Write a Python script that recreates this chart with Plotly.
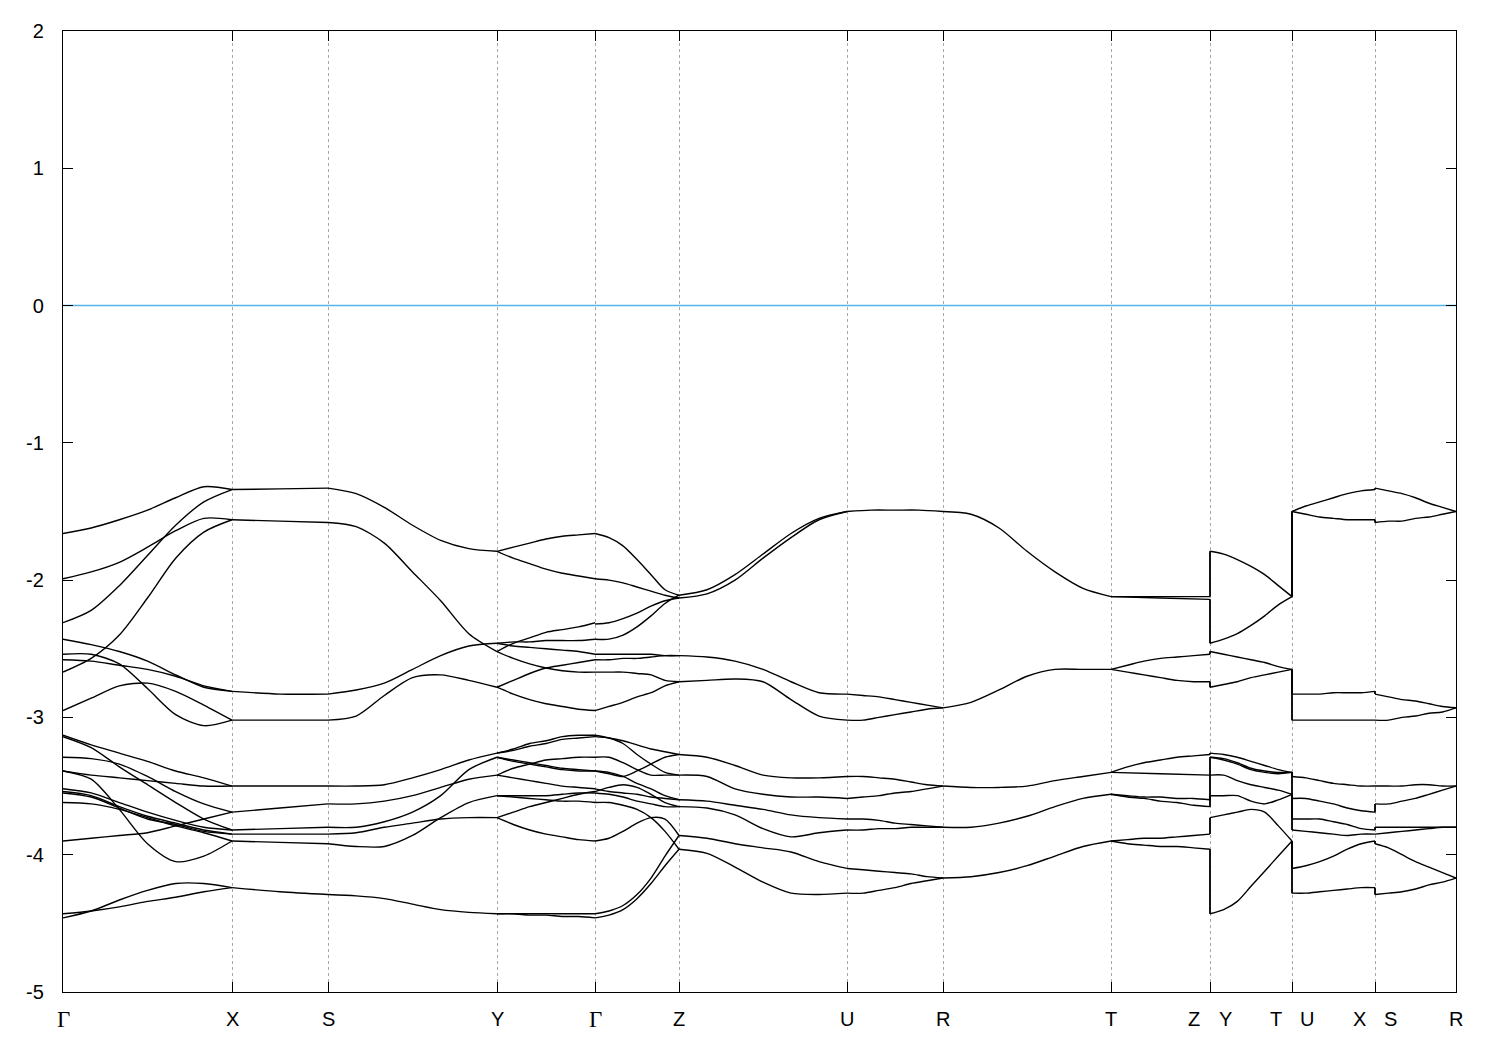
import numpy as np
import plotly.graph_objects as go

# ---------------- k-path ----------------
node_labels = ["Γ", "X", "S", "Y", "Γ", "Z", "U", "R", "T", "Z|Y", "T|U", "X|S", "R"]
seg_len = [1.69, 0.96, 1.69, 0.98, 0.84, 1.68, 0.96, 1.68, 0.99, 0.82, 0.83, 0.81]
jump_after = [8, 9, 10]          # path is discontinuous after these segments
y_ticks = [-5, -4, -3, -2, -1, 0, 1, 2]
y_tick_text = ["-5", "-4", "-3", "-2", "-1", "0", "1", "2"]
fermi_level = 0.0

# ---------------- bands (eV), per segment ----------------
# Gamma -> X
bands_GX = [
    [-1.66, -1.62, -1.56, -1.49, -1.40, -1.32, -1.34],
    [-1.99, -1.94, -1.87, -1.76, -1.64, -1.55, -1.56],
    [-2.31, -2.22, -2.04, -1.82, -1.60, -1.43, -1.34],
    [-2.67, -2.57, -2.40, -2.13, -1.84, -1.65, -1.56],
    [-2.43, -2.47, -2.52, -2.59, -2.69, -2.78, -2.81],
    [-2.58, -2.59, -2.62, -2.65, -2.70, -2.77, -2.81],
    [-2.54, -2.54, -2.61, -2.79, -2.98, -3.06, -3.02],
    [-2.95, -2.86, -2.77, -2.75, -2.81, -2.91, -3.02],
    [-3.13, -3.20, -3.26, -3.32, -3.39, -3.44, -3.50],
    [-3.39, -3.42, -3.44, -3.46, -3.48, -3.50, -3.50],
    [-3.29, -3.30, -3.34, -3.43, -3.54, -3.63, -3.69],
    [-3.90, -3.88, -3.86, -3.84, -3.79, -3.74, -3.69],
    [-3.14, -3.22, -3.36, -3.49, -3.62, -3.74, -3.82],
    [-3.52, -3.55, -3.62, -3.69, -3.75, -3.80, -3.82],
    [-3.54, -3.57, -3.65, -3.72, -3.77, -3.82, -3.85],
    [-3.55, -3.58, -3.66, -3.74, -3.78, -3.83, -3.85],
    [-3.62, -3.63, -3.67, -3.73, -3.79, -3.84, -3.90],
    [-3.39, -3.45, -3.67, -3.92, -4.05, -4.01, -3.90],
    [-4.46, -4.41, -4.33, -4.26, -4.21, -4.21, -4.24],
    [-4.43, -4.41, -4.38, -4.34, -4.31, -4.27, -4.24],
]
deg_GX = [1] * 20

# X -> S
bands_XS = [
    [-1.34, -1.335, -1.33],
    [-1.56, -1.57, -1.58],
    [-2.81, -2.83, -2.83],
    [-3.02, -3.02, -3.02],
    [-3.50, -3.50, -3.50],
    [-3.69, -3.66, -3.63],
    [-3.82, -3.81, -3.80],
    [-3.85, -3.85, -3.85],
    [-3.90, -3.91, -3.92],
    [-4.24, -4.27, -4.29],
]
deg_XS = [2] * 10

# S -> Y
bands_SY = [
    [-1.33, -1.37, -1.47, -1.60, -1.71, -1.77, -1.79],
    [-1.58, -1.61, -1.73, -1.94, -2.15, -2.39, -2.52],
    [-2.83, -2.80, -2.75, -2.65, -2.55, -2.48, -2.46],
    [-3.02, -2.99, -2.84, -2.71, -2.69, -2.73, -2.78],
    [-3.50, -3.50, -3.49, -3.44, -3.38, -3.31, -3.26],
    [-3.63, -3.63, -3.61, -3.57, -3.51, -3.45, -3.42],
    [-3.80, -3.80, -3.76, -3.69, -3.57, -3.38, -3.29],
    [-3.85, -3.84, -3.80, -3.77, -3.74, -3.73, -3.73],
    [-3.92, -3.94, -3.94, -3.86, -3.73, -3.62, -3.57],
    [-4.29, -4.30, -4.32, -4.36, -4.40, -4.42, -4.43],
]
deg_SY = [2] * 10

# Y -> Gamma
bands_YG = [
    [-1.79, -1.76, -1.73, -1.70, -1.68, -1.67, -1.66],
    [-1.79, -1.84, -1.88, -1.92, -1.95, -1.97, -1.99],
    [-2.52, -2.46, -2.42, -2.38, -2.36, -2.34, -2.31],
    [-2.46, -2.45, -2.45, -2.44, -2.44, -2.44, -2.43],
    [-2.46, -2.48, -2.49, -2.50, -2.51, -2.52, -2.54],
    [-2.52, -2.57, -2.61, -2.64, -2.66, -2.67, -2.67],
    [-2.78, -2.73, -2.68, -2.64, -2.62, -2.60, -2.58],
    [-2.78, -2.83, -2.87, -2.90, -2.92, -2.94, -2.95],
    [-3.26, -3.24, -3.21, -3.19, -3.16, -3.15, -3.14],
    [-3.26, -3.23, -3.19, -3.17, -3.14, -3.13, -3.13],
    [-3.29, -3.31, -3.33, -3.35, -3.37, -3.38, -3.39],
    [-3.29, -3.32, -3.34, -3.36, -3.38, -3.39, -3.39],
    [-3.42, -3.37, -3.34, -3.31, -3.30, -3.29, -3.29],
    [-3.42, -3.44, -3.46, -3.48, -3.50, -3.51, -3.52],
    [-3.57, -3.57, -3.57, -3.57, -3.56, -3.55, -3.55],
    [-3.57, -3.58, -3.59, -3.60, -3.61, -3.61, -3.62],
    [-3.73, -3.69, -3.65, -3.62, -3.59, -3.56, -3.54],
    [-3.73, -3.78, -3.82, -3.85, -3.87, -3.89, -3.90],
    [-4.43, -4.43, -4.43, -4.43, -4.43, -4.43, -4.43],
    [-4.43, -4.43, -4.44, -4.44, -4.45, -4.45, -4.46],
]
deg_YG = [1] * 20

# Gamma -> Z
bands_GZ = [
    [-1.66, -1.69, -1.75, -1.85, -1.96, -2.07, -2.11],
    [-1.99, -2.00, -2.02, -2.05, -2.08, -2.11, -2.13],
    [-2.32, -2.31, -2.28, -2.24, -2.19, -2.15, -2.13],
    [-2.43, -2.43, -2.40, -2.34, -2.26, -2.17, -2.11],
    [-2.54, -2.54, -2.54, -2.54, -2.54, -2.55, -2.55],
    [-2.58, -2.58, -2.57, -2.57, -2.56, -2.55, -2.55],
    [-2.67, -2.67, -2.67, -2.68, -2.69, -2.73, -2.74],
    [-2.95, -2.92, -2.89, -2.85, -2.82, -2.77, -2.74],
    [-3.14, -3.15, -3.17, -3.20, -3.23, -3.25, -3.27],
    [-3.13, -3.15, -3.19, -3.27, -3.34, -3.40, -3.42],
    [-3.29, -3.29, -3.33, -3.38, -3.42, -3.42, -3.42],
    [-3.39, -3.41, -3.43, -3.39, -3.34, -3.29, -3.27],
    [-3.39, -3.40, -3.43, -3.48, -3.52, -3.57, -3.60],
    [-3.52, -3.54, -3.55, -3.56, -3.58, -3.59, -3.60],
    [-3.54, -3.51, -3.49, -3.51, -3.56, -3.62, -3.65],
    [-3.55, -3.56, -3.58, -3.61, -3.63, -3.65, -3.65],
    [-3.62, -3.62, -3.64, -3.67, -3.73, -3.83, -3.96],
    [-3.90, -3.88, -3.83, -3.77, -3.73, -3.74, -3.86],
    [-4.43, -4.41, -4.37, -4.29, -4.17, -4.01, -3.86],
    [-4.46, -4.44, -4.40, -4.32, -4.21, -4.08, -3.96],
]
deg_GZ = [1] * 20

# Z -> U
bands_ZU = [
    [-2.11, -2.07, -1.96, -1.81, -1.66, -1.55, -1.50],
    [-2.13, -2.10, -2.00, -1.84, -1.69, -1.56, -1.50],
    [-2.55, -2.56, -2.59, -2.65, -2.74, -2.82, -2.83],
    [-2.74, -2.73, -2.72, -2.74, -2.87, -2.99, -3.02],
    [-3.27, -3.29, -3.35, -3.42, -3.44, -3.44, -3.43],
    [-3.42, -3.43, -3.52, -3.56, -3.58, -3.58, -3.59],
    [-3.60, -3.61, -3.64, -3.67, -3.71, -3.73, -3.74],
    [-3.65, -3.66, -3.71, -3.81, -3.87, -3.84, -3.82],
    [-3.86, -3.88, -3.92, -3.95, -3.98, -4.05, -4.10],
    [-3.96, -3.99, -4.09, -4.20, -4.28, -4.29, -4.28],
]
deg_ZU = [2] * 10

# U -> R
bands_UR = [
    [-1.50, -1.49, -1.49, -1.49, -1.50],
    [-2.83, -2.84, -2.85, -2.87, -2.89, -2.91, -2.93],
    [-3.02, -3.02, -3.00, -2.98, -2.96, -2.94, -2.93],
    [-3.43, -3.43, -3.44, -3.45, -3.47, -3.49, -3.50],
    [-3.59, -3.58, -3.57, -3.55, -3.54, -3.52, -3.50],
    [-3.74, -3.74, -3.75, -3.77, -3.78, -3.79, -3.80],
    [-3.82, -3.82, -3.81, -3.81, -3.80, -3.80, -3.80],
    [-4.10, -4.11, -4.12, -4.13, -4.14, -4.16, -4.17],
    [-4.28, -4.28, -4.26, -4.24, -4.21, -4.19, -4.17],
]
deg_UR = [4, 2, 2, 2, 2, 2, 2, 2, 2]

# R -> T
bands_RT = [
    [-1.50, -1.52, -1.62, -1.79, -1.94, -2.06, -2.12],
    [-2.93, -2.89, -2.80, -2.70, -2.65, -2.65, -2.65],
    [-3.50, -3.51, -3.51, -3.50, -3.46, -3.43, -3.40],
    [-3.80, -3.80, -3.77, -3.72, -3.65, -3.59, -3.56],
    [-4.17, -4.16, -4.13, -4.08, -4.01, -3.94, -3.90],
]
deg_RT = [4, 4, 4, 4, 4]

# T -> Z
bands_TZ = [
    [-2.12, -2.12, -2.12],
    [-2.12, -2.13, -2.14],
    [-2.65, -2.62, -2.59, -2.57, -2.56, -2.55, -2.54],
    [-2.65, -2.67, -2.69, -2.71, -2.73, -2.74, -2.74],
    [-3.40, -3.36, -3.33, -3.31, -3.29, -3.28, -3.27],
    [-3.40, -3.41, -3.42],
    [-3.56, -3.57, -3.58, -3.58, -3.59, -3.59, -3.60],
    [-3.56, -3.58, -3.59, -3.61, -3.62, -3.64, -3.65],
    [-3.90, -3.89, -3.88, -3.88, -3.87, -3.86, -3.85],
    [-3.90, -3.92, -3.93, -3.94, -3.94, -3.95, -3.96],
]
deg_TZ = [2] * 10

# Y -> T
bands_YT = [
    [-1.79, -1.81, -1.85, -1.90, -1.96, -2.04, -2.12],
    [-2.46, -2.43, -2.39, -2.33, -2.26, -2.18, -2.12],
    [-2.52, -2.54, -2.56, -2.58, -2.60, -2.63, -2.65],
    [-2.78, -2.76, -2.74, -2.71, -2.69, -2.67, -2.65],
    [-3.26, -3.27, -3.29, -3.32, -3.35, -3.38, -3.40],
    [-3.29, -3.30, -3.33, -3.37, -3.39, -3.40, -3.40],
    [-3.29, -3.31, -3.34, -3.38, -3.40, -3.41, -3.40],
    [-3.42, -3.42, -3.46, -3.49, -3.51, -3.53, -3.56],
    [-3.57, -3.57, -3.57, -3.61, -3.63, -3.60, -3.56],
    [-3.73, -3.71, -3.69, -3.67, -3.69, -3.79, -3.90],
    [-4.43, -4.40, -4.34, -4.23, -4.12, -4.01, -3.90],
]
deg_YT = [2, 2, 2, 2, 2, 1, 1, 2, 2, 2, 2]

# U -> X
bands_UX = [
    [-1.50, -1.46, -1.43, -1.40, -1.37, -1.35, -1.34],
    [-1.50, -1.52, -1.54, -1.55, -1.56, -1.56, -1.56],
    [-2.83, -2.83, -2.83, -2.82, -2.82, -2.82, -2.81],
    [-3.02, -3.02, -3.02],
    [-3.43, -3.44, -3.46, -3.48, -3.49, -3.50, -3.50],
    [-3.59, -3.59, -3.61, -3.63, -3.66, -3.68, -3.69],
    [-3.74, -3.74, -3.74, -3.76, -3.78, -3.81, -3.82],
    [-3.82, -3.83, -3.84, -3.85, -3.86, -3.85, -3.85],
    [-4.10, -4.08, -4.05, -4.01, -3.96, -3.92, -3.90],
    [-4.28, -4.28, -4.27, -4.26, -4.25, -4.24, -4.24],
]
deg_UX = [2] * 10

# S -> R
bands_SR = [
    [-1.33, -1.35, -1.37, -1.40, -1.44, -1.47, -1.50],
    [-1.58, -1.57, -1.57, -1.55, -1.54, -1.52, -1.50],
    [-2.83, -2.85, -2.87, -2.88, -2.90, -2.92, -2.93],
    [-3.02, -3.02, -3.00, -2.99, -2.97, -2.96, -2.93],
    [-3.50, -3.50, -3.50, -3.49, -3.49, -3.50, -3.50],
    [-3.63, -3.63, -3.61, -3.59, -3.56, -3.53, -3.50],
    [-3.80, -3.80, -3.80],
    [-3.85, -3.84, -3.83, -3.82, -3.81, -3.80, -3.80],
    [-3.92, -3.95, -4.00, -4.05, -4.09, -4.13, -4.17],
    [-4.29, -4.28, -4.27, -4.25, -4.22, -4.20, -4.17],
]
deg_SR = [2] * 10

segments = [
    (bands_GX, deg_GX), (bands_XS, deg_XS), (bands_SY, deg_SY), (bands_YG, deg_YG),
    (bands_GZ, deg_GZ), (bands_ZU, deg_ZU), (bands_UR, deg_UR), (bands_RT, deg_RT),
    (bands_TZ, deg_TZ), (bands_YT, deg_YT), (bands_UX, deg_UX), (bands_SR, deg_SR),
]

# ---------------- build geometry ----------------
knodes = np.concatenate([[0.0], np.cumsum(seg_len)])
kmax = float(knodes[-1])

bx, by = [], []
for i, (bands, deg) in enumerate(segments):
    for b in bands:
        k = np.linspace(knodes[i], knodes[i + 1], len(b))
        bx += list(k) + [None]
        by += list(b) + [None]

# vertical connections at discontinuities (band n joined to band n)
jx, jy = [], []
for i in jump_after:
    b0, d0 = segments[i]
    b1, d1 = segments[i + 1]
    ends = sorted(v[-1] for v, d in zip(b0, d0) for _ in range(d))
    starts = sorted(v[0] for v, d in zip(b1, d1) for _ in range(d))
    for e0, e1 in zip(ends, starts):
        if abs(e0 - e1) > 1e-9:
            jx += [knodes[i + 1], knodes[i + 1], None]
            jy += [e0, e1, None]

fig = go.Figure()
fig.add_trace(go.Scatter(x=[0, kmax], y=[fermi_level, fermi_level], mode="lines",
                         line=dict(color="#56b4e9", width=1.6), hoverinfo="skip"))
fig.add_trace(go.Scatter(x=bx, y=by, mode="lines",
                         line=dict(color="black", width=1.4, shape="spline", smoothing=0.8),
                         hoverinfo="skip"))
fig.add_trace(go.Scatter(x=jx, y=jy, mode="lines",
                         line=dict(color="black", width=1.4), hoverinfo="skip"))

# x tick labels (split labels at discontinuities)
annots = []
for k, lab in zip(knodes, node_labels):
    parts = lab.split("|")
    shifts = [0] if len(parts) == 1 else [-16, 15]
    for p, s in zip(parts, shifts):
        greek = p == "Γ"
        annots.append(dict(x=k, y=0, xref="x", yref="paper", text=p, showarrow=False,
                           xanchor="center", yanchor="middle", xshift=s, yshift=-27,
                           font=dict(family="Liberation Serif" if greek else "Liberation Sans",
                                     size=23 if greek else 20, color="black")))

fig.update_layout(
    width=1492, height=1042,
    margin=dict(l=55, r=44, t=20, b=58),
    paper_bgcolor="white", plot_bgcolor="white",
    showlegend=False,
    font=dict(family="Liberation Sans", size=20, color="black"),
    annotations=annots,
    xaxis=dict(range=[0, kmax], tickvals=list(knodes), ticktext=[""] * len(knodes),
               ticks="inside", ticklen=10, tickwidth=1.3, tickcolor="black",
               showline=True, linecolor="black", linewidth=1.3, mirror="ticks",
               showgrid=True, gridcolor="#a8a8a8", gridwidth=1, griddash="3px,3px",
               zeroline=False),
    yaxis=dict(range=[-5, 2], tickvals=y_ticks, ticktext=y_tick_text,
               ticks="inside", ticklen=10, tickwidth=1.3, tickcolor="black",
               showline=True, linecolor="black", linewidth=1.3, mirror="ticks",
               showgrid=False, zeroline=False, ticklabelstandoff=14),
)

fig.write_html("out.html")
